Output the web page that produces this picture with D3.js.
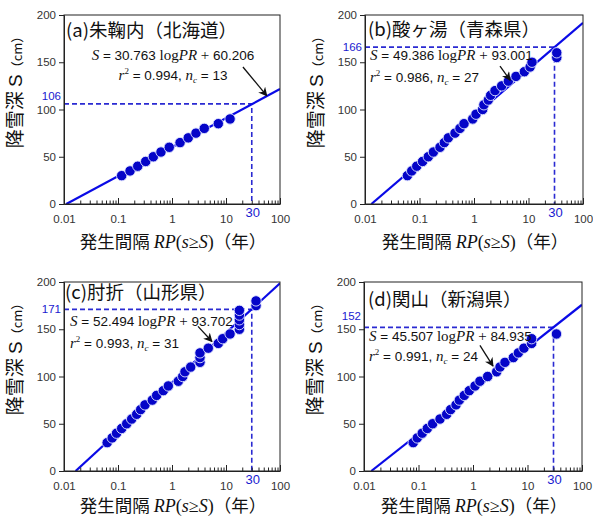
<!DOCTYPE html>
<html>
<head>
<meta charset="utf-8">
<script src="https://cdn.jsdelivr.net/npm/d3@7"></script>
<style>
  body { margin: 0; background: #fff; }
  svg { display: block; }
</style>
</head>
<body>
<svg id="chart" width="593" height="517"></svg>
<script>
// Station names and regression results for each panel
const stationLabels = ["(a)朱鞠内（北海道）", "(b)酸ヶ湯（青森県）", "(c)肘折（山形県）", "(d)関山（新潟県）"];
const slopes = [30.763, 49.386, 52.494, 45.507];
const intercepts = [60.206, 93.001, 93.702, 84.935];
const r2Values = ["0.994", "0.986", "0.993", "0.991"];
const ncValues = [13, 27, 31, 24];
const slopeLabels = ["30.763", "49.386", "52.494", "45.507"];
const interceptLabels = ["60.206", "93.001", "93.702", "84.935"];

// 30-year return level read from each fit
const refPeriod = 30;
const refDepths = [106, 166, 171, 152];

// Axis ticks
const xTicks = [0.01, 0.1, 1, 10, 100];
const xTickLabels = ["0.01", "0.1", "1", "10", "100"];
const yTicks = [0, 50, 100, 150, 200];

// Snow depth thresholds S (cm) and their return periods RP (years)
const depthA = [30, 35, 40, 45, 50, 55, 60, 65, 70, 75, 80, 85, 90];
const periodA = [0.117, 0.167, 0.232, 0.326, 0.451, 0.625, 0.89, 1.41, 2.0, 2.78, 3.96, 7.2, 11.9];

const depthB = [30, 35, 40, 45, 50, 55, 60, 65, 70, 75, 80, 85, 90, 95, 100, 105, 110, 115, 120, 125, 130, 135, 140, 145, 150, 155, 160];
const periodB = [0.060, 0.072, 0.089, 0.114, 0.145, 0.18, 0.238, 0.286, 0.338, 0.448, 0.553, 0.656, 0.946, 1.09, 1.44, 1.52, 1.83, 2.02, 2.43, 3.22, 4.27, 5.9, 8.4, 10.7, 11.6, 33, 33];

const depthC = [30, 35, 40, 45, 50, 55, 60, 65, 70, 75, 80, 85, 90, 95, 100, 105, 110, 115, 120, 125, 130, 135, 140, 145, 150, 155, 160, 165, 170, 175, 180];
const periodC = [0.063, 0.078, 0.094, 0.117, 0.145, 0.179, 0.222, 0.263, 0.316, 0.432, 0.52, 0.69, 0.855, 1.31, 1.58, 1.74, 2.22, 3.3, 3.3, 3.3, 4.7, 7.2, 8.7, 11.9, 17.7, 17.7, 17.7, 17.7, 17.7, 36, 36];

const depthD = [30, 35, 40, 45, 50, 55, 60, 65, 70, 75, 80, 85, 90, 95, 100, 105, 110, 115, 120, 125, 130, 135, 140, 145];
const periodD = [0.080, 0.095, 0.117, 0.145, 0.182, 0.248, 0.329, 0.389, 0.488, 0.561, 0.692, 0.855, 1.09, 1.34, 1.86, 2.72, 3.13, 3.86, 5.5, 6.8, 8.6, 11.9, 11.9, 34];

const depthSeries = [depthA, depthB, depthC, depthD];
const periodSeries = [periodA, periodB, periodC, periodD];

// Plot frames and text placement for the 2x2 grid
const layout = [
  { left: 64, top: 15, right: 280, bottom: 204, xTitleDy: 44,
    title: [66, 37], eq: { x: 173, y1: 60, y2: 80, anchor: "middle" },
    arrow: { from: [20.6, 145], to: [57, 114.5] }, refLabelDy: -7.5 },
  { left: 365, top: 15, right: 583, bottom: 204, xTitleDy: 44,
    title: [368, 36], eq: { x: 370, y1: 60, y2: 82, anchor: "start" },
    arrow: { from: [3.0, 146], to: [4.6, 131] }, refLabelDy: 0 },
  { left: 64, top: 282, right: 280, bottom: 471, xTitleDy: 41,
    title: [65, 299], eq: { x: 70, y1: 326, y2: 348, anchor: "start" },
    arrow: { from: [3.03, 153], to: [5.5, 137] }, refLabelDy: 0 },
  { left: 364, top: 282, right: 582, bottom: 471, xTitleDy: 41,
    title: [368, 306], eq: { x: 369, y1: 341, y2: 361, anchor: "start" },
    arrow: { from: [1.34, 133], to: [2.33, 111] }, refLabelDy: -11 }
];

const SANS = "'Liberation Sans', Arial, sans-serif";
const SERIF = "'Liberation Serif', 'Times New Roman', serif";
const CJK = "'Noto Sans CJK JP', 'Liberation Sans', sans-serif";
const BLUE_LINE = "#0a0ae6";
const BLUE_DOT = "#0505c8";
const BLUE_DASH = "#2a2ad2";
const BLUE_TEXT = "#1a1ad0";

const svg = d3.select("#chart");

svg.append("defs").append("marker")
  .attr("id", "arrowhead")
  .attr("viewBox", "0 0 10 10")
  .attr("refX", 9).attr("refY", 5)
  .attr("markerWidth", 9).attr("markerHeight", 9)
  .attr("markerUnits", "userSpaceOnUse")
  .attr("orient", "auto")
  .append("path")
  .attr("d", "M0,0 L10,5 L0,10 L3,5 Z")
  .attr("fill", "#111");

layout.forEach((box, i) => {
  const x = d3.scaleLog().domain([0.01, 100]).range([box.left, box.right]);
  const y = d3.scaleLinear().domain([0, 200]).range([box.bottom, box.top]);
  const g = svg.append("g");

  const clipId = "clip" + i;
  svg.select("defs").append("clipPath").attr("id", clipId)
    .append("rect")
    .attr("x", box.left).attr("y", box.top)
    .attr("width", box.right - box.left).attr("height", box.bottom - box.top);

  // 30-year reference lines
  g.append("path")
    .attr("d", d3.line()([[x(0.01), y(refDepths[i])], [x(refPeriod), y(refDepths[i])], [x(refPeriod), y(0)]]))
    .attr("fill", "none")
    .attr("stroke", BLUE_DASH)
    .attr("stroke-width", 1.6)
    .attr("stroke-dasharray", "5,3");

  // Regression line S = a log RP + b
  const a = slopes[i], b = intercepts[i];
  const rp0 = Math.pow(10, -b / a);
  const fit = [rp0, 100].map(rp => [rp, a * Math.log10(rp) + b]);
  g.append("path")
    .attr("clip-path", `url(#${clipId})`)
    .attr("d", d3.line().x(d => x(d[0])).y(d => y(d[1]))(fit))
    .attr("fill", "none")
    .attr("stroke", BLUE_LINE)
    .attr("stroke-width", 2.2);

  // Observed points
  const pts = depthSeries[i].map((s, k) => ({ s, rp: periodSeries[i][k] }));
  g.selectAll("circle.pt").data(pts).enter().append("circle")
    .attr("class", "pt")
    .attr("cx", d => x(d.rp))
    .attr("cy", d => y(d.s))
    .attr("r", 5.2)
    .attr("fill", BLUE_DOT)
    .attr("stroke", "#dfe3ff")
    .attr("stroke-width", 0.9);

  // Frame
  g.append("rect")
    .attr("x", box.left).attr("y", box.top)
    .attr("width", box.right - box.left).attr("height", box.bottom - box.top)
    .attr("fill", "none").attr("stroke", "#222").attr("stroke-width", 1);

  // Y axis
  const yAxis = g.append("g")
    .attr("transform", `translate(${box.left},0)`)
    .call(d3.axisLeft(y).tickValues(yTicks).tickSize(5).tickPadding(3).tickFormat(d3.format("d")));
  // X axis: major ticks with labels, minor ticks inward
  const xAxis = g.append("g")
    .attr("transform", `translate(0,${box.bottom})`)
    .call(d3.axisBottom(x).tickValues(xTicks).tickSizeInner(-6).tickSizeOuter(0).tickPadding(11)
      .tickFormat((d, k) => xTickLabels[k]));
  const minor = [];
  xTicks.slice(0, -1).forEach(t => { for (let m = 2; m <= 9; m++) minor.push(t * m); });
  g.append("g")
    .attr("transform", `translate(0,${box.bottom})`)
    .call(d3.axisBottom(x).tickValues(minor).tickSizeInner(-3.5).tickSizeOuter(0).tickFormat(""))
    .call(s => s.select(".domain").remove());

  [yAxis, xAxis].forEach(ax => {
    ax.select(".domain").attr("stroke", "#222");
    ax.selectAll("text").attr("font-family", SANS).attr("font-size", 11.5).attr("fill", "#333");
  });
  g.selectAll(".tick line").attr("stroke", "#222");

  // Reference value labels
  g.append("text")
    .attr("x", box.left - 3)
    .attr("y", y(refDepths[i]) + box.refLabelDy)
    .attr("dy", "0.35em")
    .attr("text-anchor", "end")
    .attr("font-family", SANS).attr("font-size", 11.5)
    .attr("fill", BLUE_TEXT)
    .text(refDepths[i]);
  g.append("text")
    .attr("x", x(refPeriod) + 1)
    .attr("y", box.bottom + 13)
    .attr("text-anchor", "middle")
    .attr("font-family", SANS).attr("font-size", 13)
    .attr("fill", BLUE_TEXT)
    .text(refPeriod);

  // Panel title
  g.append("text")
    .attr("x", box.title[0]).attr("y", box.title[1])
    .attr("font-family", CJK).attr("font-size", 18.5).attr("fill", "#111")
    .text(stationLabels[i]);

  // Regression equation
  const eq1 = g.append("text")
    .attr("x", box.eq.x).attr("y", box.eq.y1)
    .attr("text-anchor", box.eq.anchor)
    .attr("font-size", 13.5).attr("fill", "#111");
  eq1.append("tspan").attr("font-family", SERIF).attr("font-style", "italic").attr("font-size", 15).text("S");
  eq1.append("tspan").attr("font-family", SANS).text(` = ${slopeLabels[i]} `);
  eq1.append("tspan").attr("font-family", SERIF).attr("font-size", 15).text("log");
  eq1.append("tspan").attr("font-family", SERIF).attr("font-style", "italic").attr("font-size", 15).text("PR");
  eq1.append("tspan").attr("font-family", SERIF).attr("font-size", 15).text(" + ");
  eq1.append("tspan").attr("font-family", SANS).text(interceptLabels[i]);

  const eq2 = g.append("text")
    .attr("x", box.eq.x).attr("y", box.eq.y2)
    .attr("text-anchor", box.eq.anchor)
    .attr("font-size", 13.5).attr("fill", "#111");
  eq2.append("tspan").attr("font-family", SERIF).attr("font-style", "italic").attr("font-size", 15).text("r");
  eq2.append("tspan").attr("font-family", SERIF).attr("font-size", 9).attr("dy", -6).text("2");
  eq2.append("tspan").attr("font-family", SANS).attr("dy", 6).text(` = ${r2Values[i]}, `);
  eq2.append("tspan").attr("font-family", SERIF).attr("font-style", "italic").attr("font-size", 15).text("n");
  eq2.append("tspan").attr("font-family", SERIF).attr("font-style", "italic").attr("font-size", 9).attr("dy", 3).text("c");
  eq2.append("tspan").attr("font-family", SANS).attr("dy", -3).text(` = ${ncValues[i]}`);

  // Pointer from the equation to the fitted line
  g.append("line")
    .attr("x1", x(box.arrow.from[0])).attr("y1", y(box.arrow.from[1]))
    .attr("x2", x(box.arrow.to[0])).attr("y2", y(box.arrow.to[1]))
    .attr("stroke", "#111").attr("stroke-width", 1.3)
    .attr("marker-end", "url(#arrowhead)");

  // Axis titles
  const yt = g.append("text")
    .attr("transform", `translate(${box.left - 42},${box.top + 74}) rotate(-90)`)
    .attr("text-anchor", "middle")
    .attr("fill", "#111");
  yt.append("tspan").attr("font-family", CJK).attr("font-size", 19).text("降雪深 ");
  yt.append("tspan").attr("font-family", SANS).attr("font-size", 19).text("S");
  yt.append("tspan").attr("font-family", CJK).attr("font-size", 13).text("（cm）");

  const xt = g.append("text")
    .attr("x", (box.left + box.right) / 2 + 1)
    .attr("y", box.bottom + box.xTitleDy)
    .attr("text-anchor", "middle")
    .attr("fill", "#111");
  xt.append("tspan").attr("font-family", CJK).attr("font-size", 17.5).text("発生間隔 ");
  xt.append("tspan").attr("font-family", SERIF).attr("font-style", "italic").attr("font-size", 18).text("RP");
  xt.append("tspan").attr("font-family", SERIF).attr("font-size", 18).text("(");
  xt.append("tspan").attr("font-family", SERIF).attr("font-style", "italic").attr("font-size", 18).text("s");
  xt.append("tspan").attr("font-family", SERIF).attr("font-size", 18).text("≥");
  xt.append("tspan").attr("font-family", SERIF).attr("font-style", "italic").attr("font-size", 18).text("S");
  xt.append("tspan").attr("font-family", SERIF).attr("font-size", 18).text(")");
  xt.append("tspan").attr("font-family", CJK).attr("font-size", 17.5).text("（年）");
});
</script>
</body>
</html>
